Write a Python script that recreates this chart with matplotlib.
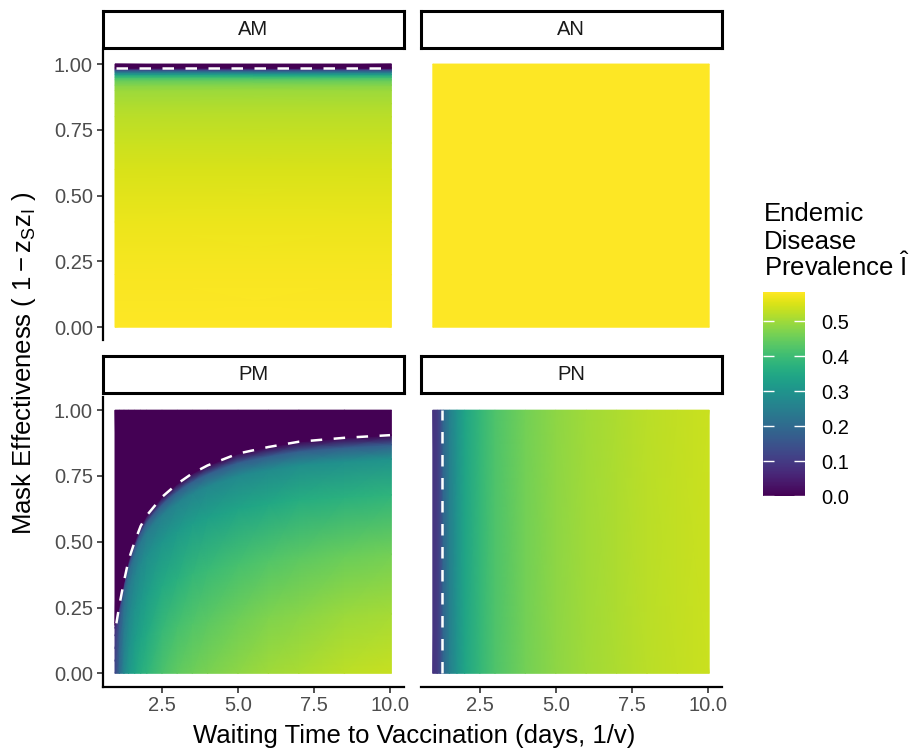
import numpy as np
import matplotlib
matplotlib.use("Agg")
import matplotlib.pyplot as plt
from matplotlib.colors import Normalize
from matplotlib.cm import ScalarMappable

plt.rcParams['font.family'] = ['Liberation Sans', 'DejaVu Sans']
plt.rcParams['mathtext.fontset'] = 'custom'
plt.rcParams['mathtext.rm'] = 'Liberation Sans'
plt.rcParams['mathtext.it'] = 'Liberation Sans'
plt.rcParams['mathtext.bf'] = 'Liberation Sans:bold'

# ---------------- data ----------------
panel_names = ["AM", "AN", "PM", "PN"]
x_ticks = [2.5, 5.0, 7.5, 10.0]
x_ticklabels = ["2.5", "5.0", "7.5", "10.0"]
y_ticks = [0.0, 0.25, 0.5, 0.75, 1.0]
y_ticklabels = ["0.00", "0.25", "0.50", "0.75", "1.00"]
cbar_ticks = [0.0, 0.1, 0.2, 0.3, 0.4, 0.5]
cbar_ticklabels = ["0.0", "0.1", "0.2", "0.3", "0.4", "0.5"]
vmin, vmax = 0.0, 0.583
x_range = [1.0, 10.0]
y_range = [0.0, 1.0]

# AM: prevalence varies with mask effectiveness only
am_y = [0.0, 0.2, 0.4, 0.6, 0.7, 0.8, 0.85, 0.9, 0.92, 0.94, 0.95, 0.96,
        0.97, 0.975, 0.98, 0.985, 1.0]
am_val = [0.583, 0.578, 0.566, 0.548, 0.537, 0.523, 0.512, 0.495, 0.475,
          0.44, 0.40, 0.33, 0.23, 0.17, 0.10, 0.0, 0.0]
am_threshold_y = 0.985

# AN: constant prevalence
an_val = 0.583

# PN: prevalence varies with waiting time only
pn_x = [1.0, 1.1, 1.2, 1.3, 1.5, 1.75, 2.0, 2.5, 3.0, 4.0, 5.0, 6.0, 7.0,
        8.0, 9.0, 10.0]
pn_val = [0.085, 0.10, 0.13, 0.19, 0.25, 0.30, 0.34, 0.385, 0.42, 0.46,
          0.485, 0.50, 0.512, 0.522, 0.53, 0.537]
pn_threshold_x = 1.27

# PM: prevalence on a grid that follows the elimination boundary
pm_x = [1.0, 1.1, 1.25, 1.4, 1.6, 1.8, 2.0, 2.5, 3.0, 3.5, 4.0, 5.0, 6.0,
        7.0, 8.5, 10.0]
pm_boundary = [0.19, 0.26, 0.35, 0.43, 0.50, 0.56, 0.60, 0.67, 0.72, 0.76,
               0.79, 0.835, 0.86, 0.88, 0.895, 0.905]
pm_frac = [0.0, 0.25, 0.5, 0.75, 0.9, 0.96, 1.0]
pm_val = [  # one row per pm_x, one column per pm_frac
    [0.12, 0.11, 0.10, 0.09, 0.07, 0.05, 0.0],
    [0.20, 0.19, 0.18, 0.16, 0.13, 0.09, 0.0],
    [0.27, 0.255, 0.24, 0.215, 0.18, 0.12, 0.0],
    [0.31, 0.29, 0.27, 0.24, 0.20, 0.14, 0.0],
    [0.34, 0.32, 0.295, 0.26, 0.22, 0.15, 0.0],
    [0.365, 0.34, 0.31, 0.275, 0.23, 0.15, 0.0],
    [0.38, 0.355, 0.325, 0.285, 0.24, 0.16, 0.0],
    [0.415, 0.39, 0.355, 0.305, 0.25, 0.16, 0.0],
    [0.44, 0.41, 0.37, 0.315, 0.26, 0.17, 0.0],
    [0.455, 0.425, 0.385, 0.325, 0.265, 0.17, 0.0],
    [0.465, 0.435, 0.395, 0.33, 0.27, 0.17, 0.0],
    [0.485, 0.455, 0.41, 0.34, 0.275, 0.17, 0.0],
    [0.50, 0.47, 0.425, 0.35, 0.28, 0.17, 0.0],
    [0.51, 0.48, 0.435, 0.36, 0.285, 0.17, 0.0],
    [0.525, 0.495, 0.45, 0.37, 0.29, 0.17, 0.0],
    [0.535, 0.505, 0.46, 0.38, 0.30, 0.17, 0.0],
]

# ---------------- layout ----------------
W, H = 910, 751
fig = plt.figure(figsize=(W / 100, H / 100), dpi=100)
cmap = plt.get_cmap('viridis')
norm = Normalize(vmin, vmax)

def fx(px):
    return px / W

def fy(py):
    return 1 - py / H

col_left = [102.7, 420.5]
panel_w = 301.0
row_top = [50.9, 397.0]
panel_h = 289.5
strip_top = [11.0, 356.0]
strip_h = 36.5

half = 0.045  # half tile width
xe0, xe1 = x_range[0] - half, x_range[1] + half

tick_color = '#333333'
label_color = '#4d4d4d'
tick_fs = 14.5
title_fs = 18.5
dash_kw = dict(color='white', lw=1.8, dashes=(4.6, 4.6))

def style_axes(ax, r, c):
    ax.set_xlim(0.55, 10.45)
    ax.set_ylim(-0.05, 1.05)
    for s in ['top', 'right']:
        ax.spines[s].set_visible(False)
    ax.spines['left'].set_visible(c == 0)
    ax.spines['bottom'].set_visible(r == 1)
    for s in ['left', 'bottom']:
        ax.spines[s].set_linewidth(1.6)
        ax.spines[s].set_color('black')
    ax.set_xticks(x_ticks)
    ax.set_yticks(y_ticks)
    if r == 1:
        ax.set_xticklabels(x_ticklabels)
    ax.tick_params(axis='x', bottom=(r == 1), labelbottom=(r == 1),
                   length=4, width=1.2, color=tick_color,
                   labelsize=tick_fs, labelcolor=label_color, pad=3)
    if c == 0:
        ax.set_yticklabels(y_ticklabels)
    ax.tick_params(axis='y', left=(c == 0), labelleft=(c == 0),
                   length=4, width=1.2, color=tick_color,
                   labelsize=tick_fs, labelcolor=label_color, pad=3)

axes = {}
for i, name in enumerate(panel_names):
    r, c = divmod(i, 2)
    ax = fig.add_axes([fx(col_left[c]), fy(row_top[r] + panel_h),
                       fx(panel_w), panel_h / H])
    style_axes(ax, r, c)
    axes[name] = ax
    sax = fig.add_axes([fx(col_left[c]), fy(strip_top[r] + strip_h),
                        fx(panel_w), strip_h / H])
    sax.set_xticks([])
    sax.set_yticks([])
    for s in sax.spines.values():
        s.set_linewidth(2.2)
        s.set_color('black')
    sax.text(0.5, 0.5, name, ha='center', va='center', fontsize=14.5,
             color='#1a1a1a', transform=sax.transAxes)

# AM
ax = axes["AM"]
X = np.array([[xe0, xe1]] * len(am_y))
Y = np.array([[v, v] for v in am_y])
Z = np.array([[v, v] for v in am_val])
ax.pcolormesh(X, Y, Z, shading='gouraud', cmap=cmap, norm=norm)
ax.plot(x_range, [am_threshold_y, am_threshold_y], **dash_kw)

# AN
ax = axes["AN"]
ax.pcolormesh(np.array([[xe0, xe1], [xe0, xe1]]),
              np.array([[y_range[0]] * 2, [y_range[1]] * 2]),
              np.full((2, 2), an_val), shading='gouraud', cmap=cmap, norm=norm)

# PM
ax = axes["PM"]
pmx = np.array(pm_x, dtype=float)
pmx[0], pmx[-1] = xe0, xe1
nf = len(pm_frac)
X = np.tile(pmx, (nf + 1, 1))
Y = np.vstack([np.outer(pm_frac, pm_boundary), np.full(len(pm_x), y_range[1])])
Z = np.vstack([np.array(pm_val).T, np.zeros(len(pm_x))])
ax.pcolormesh(X, Y, Z, shading='gouraud', cmap=cmap, norm=norm)
ax.plot(pm_x, pm_boundary, **dash_kw)

# PN
ax = axes["PN"]
pnx = np.array(pn_x, dtype=float)
pnx[0], pnx[-1] = xe0, xe1
X = np.vstack([pnx, pnx])
Y = np.vstack([np.full(len(pn_x), y_range[0]), np.full(len(pn_x), y_range[1])])
Z = np.vstack([pn_val, pn_val])
ax.pcolormesh(X, Y, Z, shading='gouraud', cmap=cmap, norm=norm)
ax.plot([pn_threshold_x, pn_threshold_x], y_range, **dash_kw)

# axis titles
fig.text(fx(414), fy(736), "Waiting Time to Vaccination (days, 1/v)",
         ha='center', va='center', fontsize=title_fs, color='black')
fig.text(fx(24), fy(363), r"Mask Effectiveness ( $\mathrm{1 - z_S z_I}$ )",
         ha='center', va='center', rotation=90, fontsize=title_fs,
         color='black')

# colorbar
cax = fig.add_axes([fx(763), fy(496), fx(42), 204 / H])
sm = ScalarMappable(norm=norm, cmap=cmap)
cb = fig.colorbar(sm, cax=cax, ticks=cbar_ticks)
cb.set_ticklabels(cbar_ticklabels)
cb.outline.set_visible(False)
cax.tick_params(which='major', direction='in', left=True, right=True,
                length=8, width=1, color='white', labelsize=tick_fs,
                labelcolor='black', pad=12)
cax.minorticks_off()

# legend title
fig.text(fx(764), fy(221), "Endemic", ha='left', va='baseline',
         fontsize=title_fs)
fig.text(fx(764), fy(249), "Disease", ha='left', va='baseline',
         fontsize=title_fs)
fig.text(fx(764), fy(276), r"Prevalence $\hat{\mathrm{I}}$", ha='left',
         va='baseline', fontsize=title_fs)

fig.savefig("out.png", dpi=100)
